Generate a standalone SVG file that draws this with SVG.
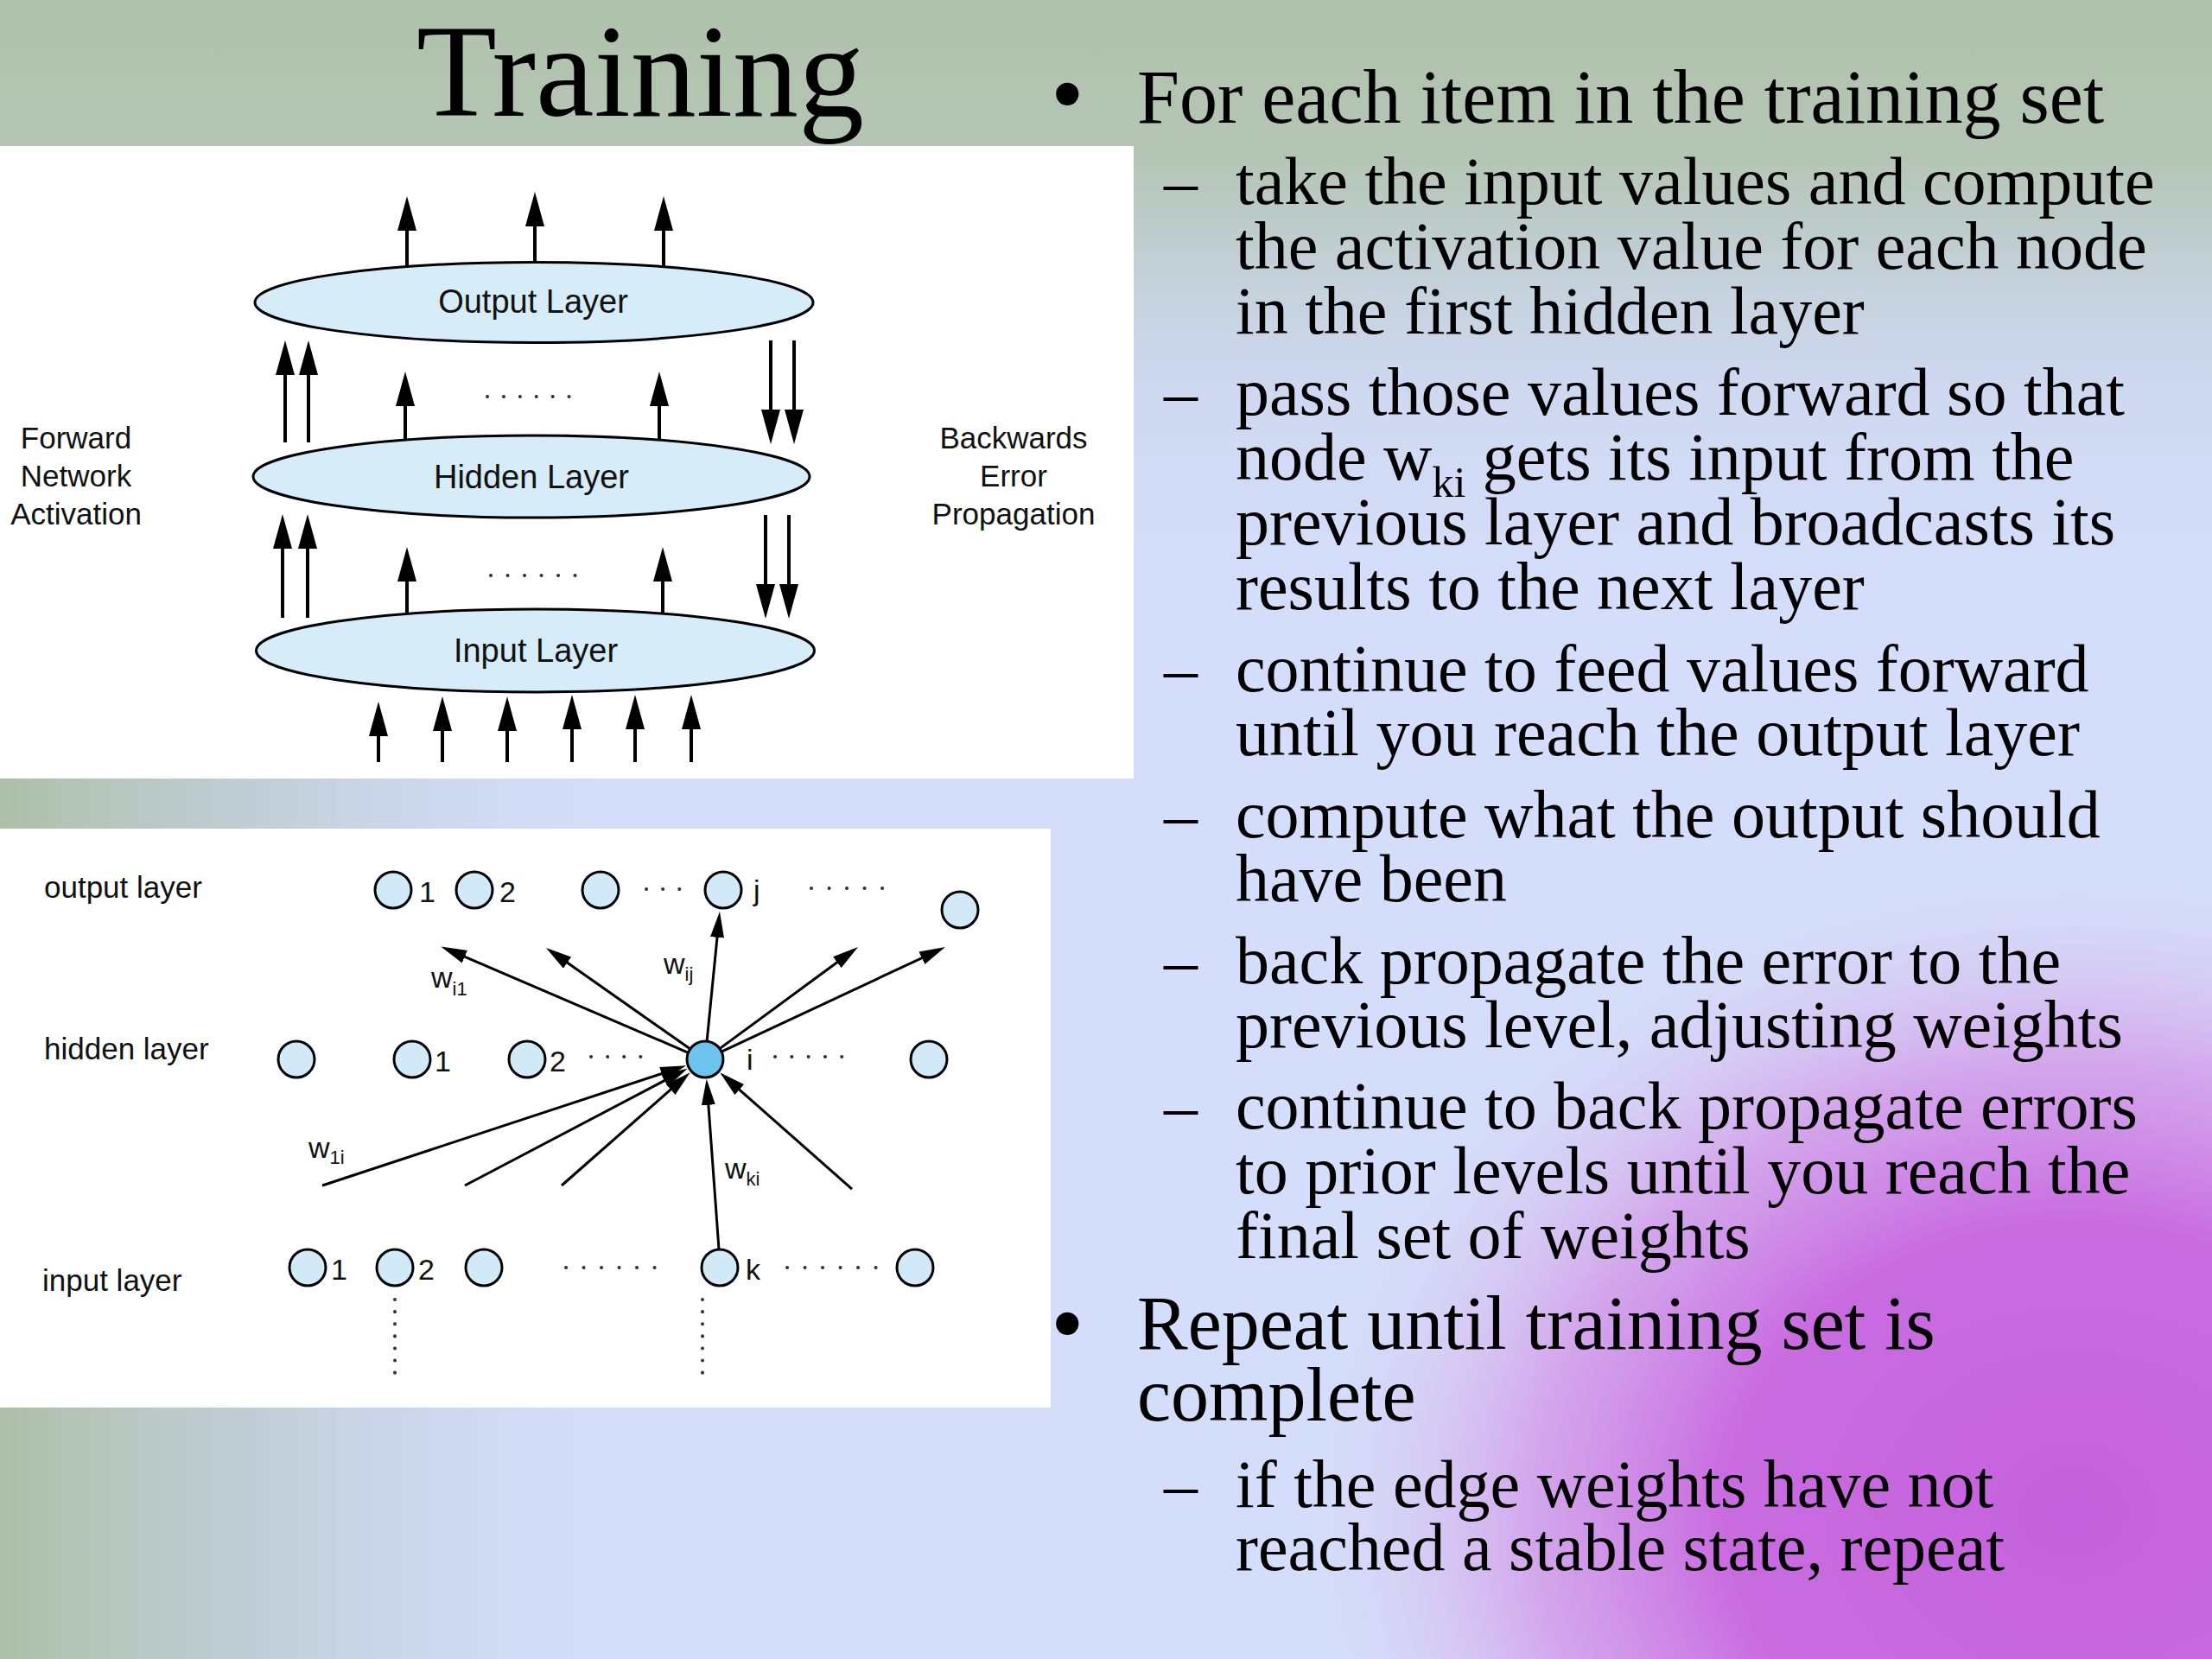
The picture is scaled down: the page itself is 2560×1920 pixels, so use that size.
<svg xmlns="http://www.w3.org/2000/svg" width="2560" height="1920" viewBox="0 0 2560 1920">
<defs>
<linearGradient id="gTop" gradientUnits="userSpaceOnUse" x1="0" y1="0" x2="0" y2="720">
<stop offset="0" stop-color="#b0c2ac" stop-opacity="1"/>
<stop offset="0.26" stop-color="#b5c5b5" stop-opacity="1"/>
<stop offset="0.6" stop-color="#c9d3e6" stop-opacity="0.6"/>
<stop offset="1" stop-color="#d4ddf9" stop-opacity="0"/>
</linearGradient>
<linearGradient id="gLeft" gradientUnits="userSpaceOnUse" x1="0" y1="0" x2="760" y2="0">
<stop offset="0" stop-color="#adbfa8" stop-opacity="1"/>
<stop offset="0.45" stop-color="#bfcbd2" stop-opacity="0.75"/>
<stop offset="1" stop-color="#d4ddf9" stop-opacity="0"/>
</linearGradient>
<radialGradient id="gPurple" gradientUnits="userSpaceOnUse" cx="2400" cy="1750" r="900" gradientTransform="translate(2400 1750) scale(1 0.83) translate(-2400 -1750)">
<stop offset="0" stop-color="#c562dd" stop-opacity="1"/>
<stop offset="0.45" stop-color="#c96ce0" stop-opacity="1"/>
<stop offset="0.7" stop-color="#d39ae9" stop-opacity="0.8"/>
<stop offset="0.88" stop-color="#d8c0f0" stop-opacity="0.35"/>
<stop offset="1" stop-color="#d4ddf9" stop-opacity="0"/>
</radialGradient>
<marker id="ah1" markerUnits="userSpaceOnUse" markerWidth="40" markerHeight="22" refX="10" refY="11" orient="auto">
<path d="M0,0 L40,11 L0,22 Z" fill="#000"/>
</marker>
<marker id="ah2" markerUnits="userSpaceOnUse" markerWidth="30" markerHeight="16" refX="8" refY="8" orient="auto">
<path d="M0,0 L30,8 L0,16 Z" fill="#000"/>
</marker>
<style>
.serif{font-family:'Liberation Serif','Times New Roman',serif;fill:#000}
.sans{font-family:'Liberation Sans',Arial,Helvetica,sans-serif;fill:#111}
.main{font-size:88px}
.sub{font-size:78px}
.bul{font-size:110px}
.lay{fill:#d6ecf9;stroke:#000;stroke-width:3}
.lbl1{font-size:38px;text-anchor:middle}
.side{font-size:35px;text-anchor:middle}
.c1{stroke:#000;stroke-width:4;fill:none;marker-end:url(#ah1)}
.c2{stroke:#000;stroke-width:3;fill:none;marker-end:url(#ah2)}
.dots{stroke:#333;stroke-width:4;stroke-linecap:round;fill:none}
.node{fill:#d2e9f7;stroke:#000;stroke-width:3}
.hot{fill:#6cc3ee;stroke:#000;stroke-width:3}
.lbl2{font-size:35px}
.num{font-size:34px}
.w{font-size:34px}
.wsub{font-size:22px}
</style>
</defs>

<g id="background">
<rect x="0" y="0" width="2560" height="1920" fill="#d4ddf9"/>
<rect x="0" y="0" width="760" height="1920" fill="url(#gLeft)"/>
<rect x="0" y="0" width="2560" height="720" fill="url(#gTop)"/>
<rect x="1200" y="900" width="1360" height="1020" fill="url(#gPurple)"/>
<rect x="0" y="169" width="1312" height="732" fill="#ffffff"/>
<rect x="0" y="959" width="1216" height="670" fill="#ffffff"/>
</g>

<g id="title">
<text class="serif" x="482" y="134" font-size="152">Training</text>
</g>

<g id="bullets">
<text class="serif bul" x="1216" y="145">•</text>
<text class="serif main" x="1316" y="142">For each item in the training set</text>

<text class="serif sub" x="1347" y="236">–</text>
<text class="serif sub" x="1430" y="236">take the input values and compute</text>
<text class="serif sub" x="1430" y="311">the activation value for each node</text>
<text class="serif sub" x="1430" y="386">in the first hidden layer</text>

<text class="serif sub" x="1347" y="480">–</text>
<text class="serif sub" x="1430" y="480">pass those values forward so that</text>
<text class="serif sub" x="1430" y="555">node w<tspan font-size="50" dy="20">ki</tspan><tspan dy="-20"> gets its input from the</tspan></text>
<text class="serif sub" x="1430" y="630">previous layer and broadcasts its</text>
<text class="serif sub" x="1430" y="705">results to the next layer</text>

<text class="serif sub" x="1347" y="800">–</text>
<text class="serif sub" x="1430" y="800">continue to feed values forward</text>
<text class="serif sub" x="1430" y="874">until you reach the output layer</text>

<text class="serif sub" x="1347" y="969">–</text>
<text class="serif sub" x="1430" y="969">compute what the output should</text>
<text class="serif sub" x="1430" y="1043">have been</text>

<text class="serif sub" x="1347" y="1138">–</text>
<text class="serif sub" x="1430" y="1138">back propagate the error to the</text>
<text class="serif sub" x="1430" y="1212">previous level, adjusting weights</text>

<text class="serif sub" x="1347" y="1306">–</text>
<text class="serif sub" x="1430" y="1306">continue to back propagate errors</text>
<text class="serif sub" x="1430" y="1381">to prior levels until you reach the</text>
<text class="serif sub" x="1430" y="1456">final set of weights</text>

<text class="serif bul" x="1216" y="1568">•</text>
<text class="serif main" x="1316" y="1561">Repeat until training set is</text>
<text class="serif main" x="1316" y="1644">complete</text>

<text class="serif sub" x="1347" y="1744">–</text>
<text class="serif sub" x="1430" y="1744">if the edge weights have not</text>
<text class="serif sub" x="1430" y="1817">reached a stable state, repeat</text>
</g>

<!-- Diagram 1 -->
<g id="d1-output-layer">
<ellipse class="lay" cx="618" cy="350" rx="323" ry="46.5"/>
<text class="sans lbl1" x="617" y="362">Output Layer</text>
</g>
<g id="d1-hidden-layer">
<ellipse class="lay" cx="615" cy="551.5" rx="322" ry="47.5"/>
<text class="sans lbl1" x="615" y="565">Hidden Layer</text>
</g>
<g id="d1-input-layer">
<ellipse class="lay" cx="619.5" cy="753" rx="323" ry="48"/>
<text class="sans lbl1" x="620" y="766">Input Layer</text>
</g>
<g id="d1-forward-label">
<text class="sans side" x="88" y="519">Forward</text>
<text class="sans side" x="88" y="563">Network</text>
<text class="sans side" x="88" y="607">Activation</text>
</g>
<g id="d1-backward-label">
<text class="sans side" x="1173" y="519">Backwards</text>
<text class="sans side" x="1173" y="563">Error</text>
<text class="sans side" x="1173" y="607">Propagation</text>
</g>
<g id="d1-connectors">
<line class="c1" x1="471" y1="308" x2="471" y2="257"/>
<line class="c1" x1="619" y1="304" x2="619" y2="252"/>
<line class="c1" x1="768" y1="308" x2="768" y2="257"/>

<line class="c1" x1="330" y1="512" x2="330" y2="424"/>
<line class="c1" x1="357" y1="512" x2="357" y2="424"/>
<line class="c1" x1="469" y1="509" x2="469" y2="460"/>
<line class="c1" x1="763" y1="509" x2="763" y2="460"/>
<line class="c1" x1="892" y1="394" x2="892" y2="484"/>
<line class="c1" x1="919" y1="394" x2="919" y2="484"/>
<line class="dots" x1="564" y1="459" x2="659" y2="459" stroke-dasharray="0.1 18.8"/>

<line class="c1" x1="327" y1="715" x2="327" y2="625"/>
<line class="c1" x1="356" y1="715" x2="356" y2="625"/>
<line class="c1" x1="471" y1="710" x2="471" y2="663"/>
<line class="c1" x1="767" y1="710" x2="767" y2="663"/>
<line class="c1" x1="886" y1="596" x2="886" y2="686"/>
<line class="c1" x1="913" y1="596" x2="913" y2="686"/>
<line class="dots" x1="568" y1="666" x2="666" y2="666" stroke-dasharray="0.1 19.4"/>

<line class="c1" x1="438" y1="882" x2="438" y2="842"/>
<line class="c1" x1="512" y1="882" x2="512" y2="836"/>
<line class="c1" x1="587" y1="882" x2="587" y2="836"/>
<line class="c1" x1="662" y1="882" x2="662" y2="834"/>
<line class="c1" x1="735" y1="882" x2="735" y2="834"/>
<line class="c1" x1="800" y1="882" x2="800" y2="834"/>
</g>

<!-- Diagram 2 -->
<g id="d2-labels">
<text class="sans lbl2" x="51" y="1039">output layer</text>
<text class="sans lbl2" x="51" y="1226">hidden layer</text>
<text class="sans lbl2" x="49" y="1494">input layer</text>
</g>

<g id="d2-connectors">
<line class="c2" x1="796.5" y1="1218.3" x2="530.5" y2="1104.1"/>
<line class="c2" x1="798.8" y1="1214" x2="650" y2="1109.6"/>
<line class="c2" x1="818.1" y1="1205.1" x2="830.8" y2="1076.9"/>
<line class="c2" x1="832.9" y1="1213.6" x2="975.3" y2="1109"/>
<line class="c2" x1="835" y1="1217.1" x2="1074.1" y2="1105.3"/>

<line class="c2" x1="373" y1="1372" x2="773.3" y2="1240.1"/>
<line class="c2" x1="538" y1="1372" x2="776.1" y2="1246.9"/>
<line class="c2" x1="650" y1="1372" x2="782.2" y2="1255.7"/>
<line class="c2" x1="832" y1="1446" x2="819.3" y2="1270.8"/>
<line class="c2" x1="986" y1="1376" x2="849.7" y2="1255.8"/>

<line class="dots" x1="748" y1="1029" x2="787" y2="1029" stroke-dasharray="0.1 19"/>
<line class="dots" x1="939" y1="1028" x2="1041" y2="1028" stroke-dasharray="0.1 20.4"/>
<line class="dots" x1="684" y1="1223" x2="742" y2="1223" stroke-dasharray="0.1 19"/>
<line class="dots" x1="897" y1="1223" x2="993" y2="1223" stroke-dasharray="0.1 19.2"/>
<line class="dots" x1="655" y1="1467" x2="758" y2="1467" stroke-dasharray="0.1 20.4"/>
<line class="dots" x1="911" y1="1467" x2="1014" y2="1467" stroke-dasharray="0.1 20.4"/>
<line class="dots" x1="457" y1="1504" x2="457" y2="1602" stroke-dasharray="0.1 14"/>
<line class="dots" x1="813" y1="1504" x2="813" y2="1602" stroke-dasharray="0.1 14"/>
</g>

<g id="d2-output-1"><circle class="node" cx="455" cy="1030" r="21"/><text class="sans num" x="485" y="1044">1</text></g>
<g id="d2-output-2"><circle class="node" cx="549" cy="1030" r="21"/><text class="sans num" x="578" y="1044">2</text></g>
<g id="d2-output-3"><circle class="node" cx="695" cy="1030" r="21"/></g>
<g id="d2-output-j"><circle class="node" cx="837" cy="1030" r="21"/><text class="sans num" x="872" y="1042">j</text></g>
<g id="d2-output-n"><circle class="node" cx="1111" cy="1053" r="21"/></g>

<g id="d2-hidden-0"><circle class="node" cx="343" cy="1226" r="21"/></g>
<g id="d2-hidden-1"><circle class="node" cx="477" cy="1226" r="21"/><text class="sans num" x="503" y="1240">1</text></g>
<g id="d2-hidden-2"><circle class="node" cx="610" cy="1226" r="21"/><text class="sans num" x="636" y="1240">2</text></g>
<g id="d2-hidden-i"><circle class="hot" cx="816" cy="1226" r="21"/><text class="sans num" x="864" y="1238">i</text></g>
<g id="d2-hidden-n"><circle class="node" cx="1075" cy="1226" r="21"/></g>

<g id="d2-input-1"><circle class="node" cx="356" cy="1467" r="21"/><text class="sans num" x="383" y="1481">1</text></g>
<g id="d2-input-2"><circle class="node" cx="457" cy="1467" r="21"/><text class="sans num" x="484" y="1481">2</text></g>
<g id="d2-input-3"><circle class="node" cx="560" cy="1467" r="21"/></g>
<g id="d2-input-k"><circle class="node" cx="833" cy="1467" r="21"/><text class="sans num" x="863" y="1481">k</text></g>
<g id="d2-input-n"><circle class="node" cx="1059" cy="1467" r="21"/></g>

<g id="d2-weights">
<text class="sans w" x="499" y="1143">w<tspan class="wsub" dy="9">i1</tspan></text>
<text class="sans w" x="768" y="1127">w<tspan class="wsub" dy="8">ij</tspan></text>
<text class="sans w" x="357" y="1340">w<tspan class="wsub" dy="7">1i</tspan></text>
<text class="sans w" x="839" y="1364">w<tspan class="wsub" dy="8">ki</tspan></text>
</g>
</svg>
